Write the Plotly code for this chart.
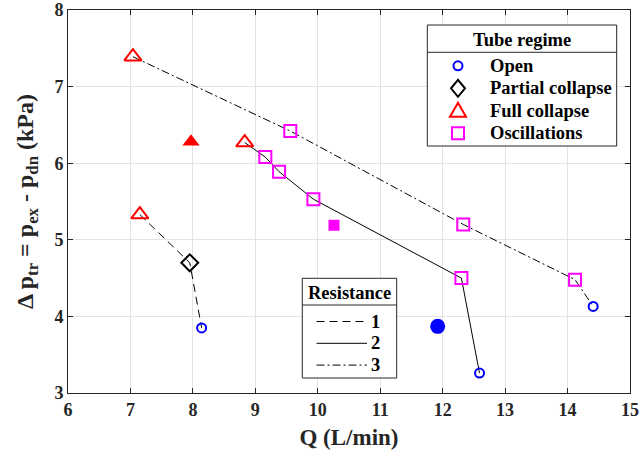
import plotly.graph_objects as go

# Resistance 1 (dashed)
q_r1 = [7.15, 7.95, 8.14]
dp_r1 = [5.33, 4.70, 3.85]
reg_r1 = ["Full collapse", "Partial collapse", "Open"]
# Resistance 2 (solid)
q_r2 = [8.83, 9.16, 9.38, 9.93, 12.30, 12.59]
dp_r2 = [6.27, 6.08, 5.89, 5.53, 4.50, 3.26]
reg_r2 = ["Full collapse", "Oscillations", "Oscillations", "Oscillations", "Oscillations", "Open"]
# Resistance 3 (dash-dot)
q_r3 = [7.04, 9.56, 12.33, 14.12, 14.41]
dp_r3 = [7.39, 6.42, 5.20, 4.48, 4.13]
reg_r3 = ["Full collapse", "Oscillations", "Oscillations", "Oscillations", "Open"]
# Filled (unconnected) points
q_f = [7.97, 10.26, 11.92]
dp_f = [6.28, 5.19, 3.87]
reg_f = ["Full collapse", "Oscillations", "Open"]

regimes = ["Open", "Partial collapse", "Full collapse", "Oscillations"]
res_labels = ["1", "2", "3"]
x_ticks = [6, 7, 8, 9, 10, 11, 12, 13, 14, 15]
y_ticks = [3, 4, 5, 6, 7, 8]

reg_style = {
    "Open": dict(symbol="circle-open", color="#0000ff", size=9),
    "Partial collapse": dict(symbol="diamond-open", color="#000000", size=13),
    "Full collapse": dict(symbol="triangle-up-open", color="#ff0000", size=15),
    "Oscillations": dict(symbol="square-open", color="#ff00ff", size=12),
}
filled_style = {
    "Open": dict(symbol="circle", color="#0000ff", size=15),
    "Full collapse": dict(symbol="triangle-up", color="#ff0000", size=15),
    "Oscillations": dict(symbol="square", color="#ff00ff", size=11),
}
res_dash = ["8px,5px", "solid", "8px,3px,2px,3px"]

FONT = "Liberation Serif"
fig = go.Figure()

for qs, dps, lab, dash in zip([q_r1, q_r2, q_r3], [dp_r1, dp_r2, dp_r3], res_labels, res_dash):
    fig.add_trace(go.Scatter(x=qs, y=dps, mode="lines", name="Resistance " + lab,
                             line=dict(color="black", width=1, dash=dash), showlegend=False))

all_q = q_r1 + q_r2 + q_r3
all_dp = dp_r1 + dp_r2 + dp_r3
all_reg = reg_r1 + reg_r2 + reg_r3
for r in regimes:
    xs = [q for q, g in zip(all_q, all_reg) if g == r]
    ys = [d for d, g in zip(all_dp, all_reg) if g == r]
    st = reg_style[r]
    fig.add_trace(go.Scatter(x=xs, y=ys, mode="markers", name=r, showlegend=False,
                             marker=dict(symbol=st["symbol"], size=st["size"], color=st["color"],
                                         line=dict(width=2, color=st["color"]))))

for q, d, r in zip(q_f, dp_f, reg_f):
    st = filled_style[r]
    fig.add_trace(go.Scatter(x=[q], y=[d], mode="markers", showlegend=False, name=r,
                             marker=dict(symbol=st["symbol"], size=st["size"], color=st["color"],
                                         line=dict(width=0))))

axis_common = dict(showline=True, linecolor="#262626", linewidth=1, mirror="ticks",
                   ticks="inside", ticklen=5, tickcolor="#262626", automargin=False,
                   showgrid=True, gridcolor="#e3e3e3", gridwidth=1, zeroline=False,
                   tickfont=dict(family=FONT, size=18, color="#262626", weight="bold"))

fig.update_xaxes(range=[6, 15], tickmode="array", tickvals=x_ticks,
                 ticktext=["<b>%d</b>" % v for v in x_ticks], **axis_common,
                 title=dict(text="Q (L/min)", font=dict(family=FONT, size=23, color="#262626", weight="bold"),
                            standoff=10))
fig.update_yaxes(range=[3, 8], tickmode="array", tickvals=y_ticks,
                 ticktext=["<b>%d</b>" % v for v in y_ticks], **axis_common,
                 title=dict(text="Δ p<sub>tr</sub> = p<sub>ex</sub> - p<sub>dn</sub> (kPa)",
                            font=dict(family=FONT, size=24, color="#262626", weight="bold"),
                            standoff=14))

# plot area in pixels: left 68, right 630, top 10, bottom 393
L, R, T, B = 68, 630, 10, 393
def px(xp):
    return (xp - L) / (R - L)
def py(yp):
    return (B - yp) / (B - T)

edge = dict(color="#262626", width=1)
shapes = []
annotations = []
lfont = dict(family=FONT, size=18.5, color="black", weight="bold")

# ---- "Tube regime" legend box ----
bx0, bx1, by0, by1, sep = 427.3, 616.7, 25, 146, 52.3
shapes.append(dict(type="rect", xref="paper", yref="paper", x0=px(bx0), x1=px(bx1), y0=py(by1), y1=py(by0),
                   line=edge, fillcolor="white", layer="above"))
shapes.append(dict(type="line", xref="paper", yref="paper", x0=px(bx0), x1=px(bx1), y0=py(sep), y1=py(sep),
                   line=edge, layer="above"))
annotations.append(dict(text="Tube regime", xref="paper", yref="paper", x=px((bx0 + bx1) / 2), y=py(39.5),
                        xanchor="center", yanchor="middle", showarrow=False, font=lfont))
sym_x, txt_x, row0, drow = 458, 488, 65.8, 22.5
for i, r in enumerate(regimes):
    yc = row0 + i * drow
    col = reg_style[r]["color"]
    sline = dict(color=col, width=2)
    if r == "Open":
        shapes.append(dict(type="circle", xref="paper", yref="paper", x0=px(sym_x - 4.5), x1=px(sym_x + 4.5),
                           y0=py(yc + 4.5), y1=py(yc - 4.5), line=sline, layer="above"))
    elif r == "Partial collapse":
        path = "M {a},{b} L {c},{d} L {a},{e} L {f},{d} Z".format(
            a=px(sym_x), b=py(yc - 8.5), c=px(sym_x + 7), d=py(yc), e=py(yc + 8.5), f=px(sym_x - 7))
        shapes.append(dict(type="path", xref="paper", yref="paper", path=path, line=sline, layer="above"))
    elif r == "Full collapse":
        path = "M {a},{b} L {c},{d} L {e},{d} Z".format(
            a=px(sym_x), b=py(yc - 8), c=px(sym_x + 8), d=py(yc + 6), e=px(sym_x - 8))
        shapes.append(dict(type="path", xref="paper", yref="paper", path=path, line=sline, layer="above"))
    else:
        shapes.append(dict(type="rect", xref="paper", yref="paper", x0=px(sym_x - 6), x1=px(sym_x + 6),
                           y0=py(yc + 6), y1=py(yc - 6), line=sline, layer="above"))
    annotations.append(dict(text=r, xref="paper", yref="paper", x=px(txt_x), y=py(yc),
                            xanchor="left", yanchor="middle", showarrow=False, font=lfont))

# ---- "Resistance" legend box ----
rx0, rx1, ry0, ry1, rsep = 302.3, 396.7, 278.3, 378, 305
shapes.append(dict(type="rect", xref="paper", yref="paper", x0=px(rx0), x1=px(rx1), y0=py(ry1), y1=py(ry0),
                   line=edge, fillcolor="white", layer="above"))
shapes.append(dict(type="line", xref="paper", yref="paper", x0=px(rx0), x1=px(rx1), y0=py(rsep), y1=py(rsep),
                   line=edge, layer="above"))
annotations.append(dict(text="Resistance", xref="paper", yref="paper", x=px((rx0 + rx1) / 2), y=py(293),
                        xanchor="center", yanchor="middle", showarrow=False, font=lfont))
lx0, lx1, ltxt, lrow0, ldrow = 316.5, 367, 369, 321.5, 21.8
for i, (lab, dash) in enumerate(zip(res_labels, res_dash)):
    yc = lrow0 + i * ldrow
    shapes.append(dict(type="line", xref="paper", yref="paper", x0=px(lx0), x1=px(lx1), y0=py(yc), y1=py(yc),
                       line=dict(color="black", width=1, dash=dash), layer="above"))
    annotations.append(dict(text=lab, xref="paper", yref="paper", x=px(ltxt), y=py(yc),
                            xanchor="left", yanchor="middle", showarrow=False, font=lfont))

fig.update_layout(
    width=641, height=458,
    margin=dict(l=L, r=641 - R, t=T, b=458 - B, autoexpand=False),
    plot_bgcolor="white", paper_bgcolor="white",
    font=dict(family=FONT, weight="bold"),
    showlegend=False,
    shapes=shapes,
    annotations=annotations,
)

fig.write_html("out.html")
